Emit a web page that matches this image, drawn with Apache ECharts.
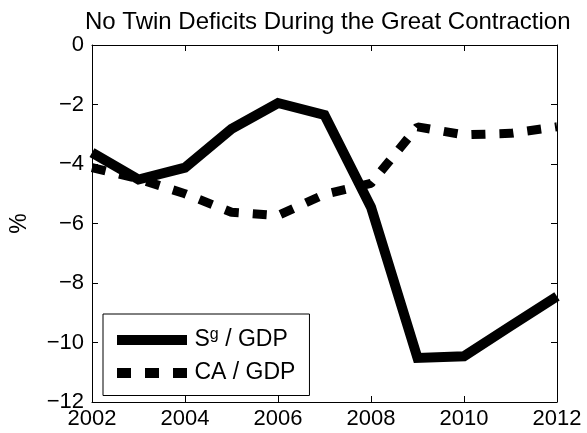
<!DOCTYPE html>
<html>
<head>
<meta charset="utf-8">
<script src="https://cdn.jsdelivr.net/npm/echarts@6/dist/echarts.min.js"></script>
<style>
html, body { margin: 0; padding: 0; background: #fff; }
#chart { width: 587px; height: 433px; }
</style>
</head>
<body>
<div id="chart"></div>
<script>
// Years on the horizontal axis
const years = [2002, 2003, 2004, 2005, 2006, 2007, 2008, 2009, 2010, 2011, 2012];
// Government saving as a share of GDP (%)
const govSaving = [-3.62, -4.52, -4.12, -2.82, -1.95, -2.35, -5.45, -10.52, -10.46, -9.45, -8.45];
// Current account as a share of GDP (%)
const currentAccount = [-4.12, -4.5, -5.0, -5.62, -5.73, -5.02, -4.65, -2.75, -3.02, -2.97, -2.75];
// Axis ticks
const xTicks = [2002, 2004, 2006, 2008, 2010, 2012];
const yTicks = [0, -2, -4, -6, -8, -10, -12];

const font = '"Liberation Sans", Arial, Helvetica, sans-serif';
const pairs = (vals) => years.map((y, i) => [y, vals[i]]);

// Legend keys: a thick bar and three thick dashes
const solidKey = 'path://M0,0h70v10h-70z';
const dashKey = 'path://M0,0h14v10h-14z M28,0h14v10h-14z M56,0h14v10h-14z';

const chart = echarts.init(document.getElementById('chart'), null, { renderer: 'canvas' });

const xBase = {
  type: 'value', min: xTicks[0], max: xTicks[xTicks.length - 1], interval: 2,
  splitLine: { show: false },
  axisLine: { show: true, onZero: false, lineStyle: { color: '#000', width: 1 } },
  axisTick: { show: true, inside: true, length: 6, lineStyle: { color: '#000' } }
};
const yBase = {
  type: 'value', min: yTicks[yTicks.length - 1], max: yTicks[0], interval: 2,
  splitLine: { show: false },
  axisLine: { show: true, onZero: false, lineStyle: { color: '#000', width: 1 } },
  axisTick: { show: true, inside: true, length: 6, lineStyle: { color: '#000' } }
};

chart.setOption({
  animation: false,
  backgroundColor: '#fff',
  title: {
    text: 'No Twin Deficits During the Great Contraction',
    left: 80, top: 5,
    textStyle: { fontFamily: font, fontSize: 24, fontWeight: 'normal', color: '#000' }
  },
  grid: { left: 91, right: 30, top: 45, bottom: 31, containLabel: false },
  legend: {
    left: 103, top: 314, orient: 'vertical',
    backgroundColor: '#fff', borderColor: '#000', borderWidth: 1,
    padding: [13, 14, 11, 14], itemGap: 10,
    itemWidth: 71, itemHeight: 10,
    data: [{ name: 'Sg', icon: solidKey }, { name: 'CA', icon: dashKey }],
    formatter: (name) => name === 'Sg' ? 'S{sup|g} / GDP' : 'CA / GDP',
    textStyle: {
      fontFamily: font, fontSize: 23, color: '#000', padding: [0, 0, 0, 2],
      rich: {
        sup: { fontFamily: font, fontSize: 16, verticalAlign: 'top', padding: [0, 0, 10, 0], color: '#000' }
      }
    }
  },
  xAxis: [
    Object.assign({}, xBase, {
      position: 'bottom',
      axisLabel: { show: true, margin: 6, fontFamily: font, fontSize: 22, color: '#000', formatter: (v) => String(v) }
    }),
    Object.assign({}, xBase, { position: 'top', axisLabel: { show: false } })
  ],
  yAxis: [
    Object.assign({}, yBase, {
      position: 'left',
      name: '%', nameLocation: 'middle', nameGap: 61, nameRotate: 90,
      nameTextStyle: { fontFamily: font, fontSize: 23, color: '#000' },
      axisLabel: { show: true, margin: 8, fontFamily: font, fontSize: 22, color: '#000',
        formatter: (v) => v < 0 ? '\u2212' + Math.abs(v) : String(v) }
    }),
    Object.assign({}, yBase, { position: 'right', axisLabel: { show: false } })
  ],
  series: [
    {
      name: 'Sg', type: 'line', xAxisIndex: 0, yAxisIndex: 0,
      data: pairs(govSaving), showSymbol: false, symbol: 'none',
      lineStyle: { color: '#000', width: 10, type: 'solid', join: 'miter' },
      itemStyle: { color: '#000' }
    },
    {
      name: 'CA', type: 'line', xAxisIndex: 0, yAxisIndex: 0,
      data: pairs(currentAccount), showSymbol: false, symbol: 'none',
      lineStyle: { color: '#000', width: 9, type: [14, 14] },
      itemStyle: { color: '#000' }
    }
  ]
});
</script>
</body>
</html>
